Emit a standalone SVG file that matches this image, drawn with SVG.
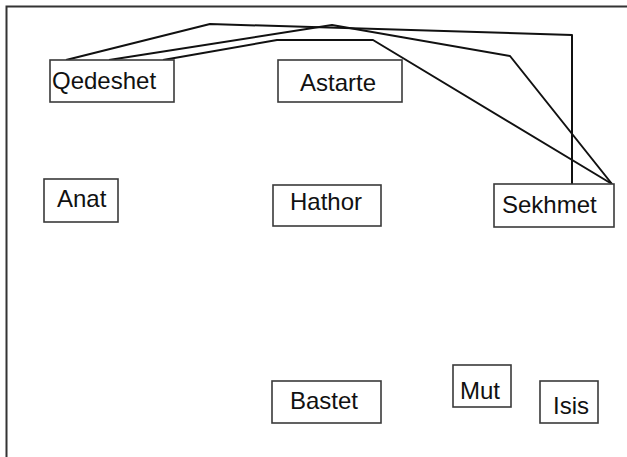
<svg xmlns="http://www.w3.org/2000/svg" width="627" height="457" viewBox="0 0 627 457">
  <style>
    .box { fill: #ffffff; stroke: #3a3a3a; stroke-width: 1.6; }
    .lbl { font-family: "Liberation Sans", Arial, sans-serif; font-size: 24px; fill: #111111; }
    .edge { fill: none; stroke: #111111; stroke-width: 2; stroke-linejoin: round; }
    .frame { fill: none; stroke: #333333; stroke-width: 2; }
  </style>
  <rect width="627" height="457" fill="#ffffff"/>
  <!-- outer frame (open to the right and bottom) -->
  <polyline class="frame" points="6.5,457 6.5,6.5 627,6.5"/>

  <g id="edges">
    <polyline class="edge" points="66,60 210,24 572,35 572,184"/>
    <polyline class="edge" points="109,60 332,25 510,56 612,184"/>
    <polyline class="edge" points="163,60 277,40 373,40 612,184"/>
  </g>

  <g id="qedeshet">
    <rect class="box" x="50" y="60" width="124" height="42"/>
    <text class="lbl" x="52" y="89">Qedeshet</text>
  </g>
  <g id="astarte">
    <rect class="box" x="278" y="60" width="124" height="42"/>
    <text class="lbl" x="300" y="90.5">Astarte</text>
  </g>
  <g id="anat">
    <rect class="box" x="44" y="179" width="74" height="43"/>
    <text class="lbl" x="57" y="207">Anat</text>
  </g>
  <g id="hathor">
    <rect class="box" x="273" y="185" width="108" height="41"/>
    <text class="lbl" x="290" y="210">Hathor</text>
  </g>
  <g id="sekhmet">
    <rect class="box" x="494" y="184" width="120" height="43"/>
    <text class="lbl" x="502" y="213">Sekhmet</text>
  </g>
  <g id="bastet">
    <rect class="box" x="272" y="381" width="109" height="42"/>
    <text class="lbl" x="290" y="409">Bastet</text>
  </g>
  <g id="mut">
    <rect class="box" x="453" y="365" width="58" height="42"/>
    <text class="lbl" x="460" y="398.5">Mut</text>
  </g>
  <g id="isis">
    <rect class="box" x="540" y="381" width="58" height="42"/>
    <text class="lbl" x="553" y="414">Isis</text>
  </g>
</svg>
